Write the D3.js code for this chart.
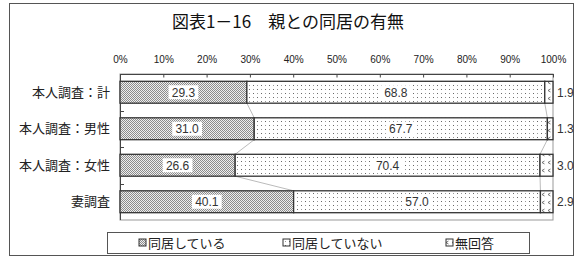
<!DOCTYPE html>
<html><head><meta charset="utf-8">
<script src="https://cdn.jsdelivr.net/npm/d3@7"></script>
<style>
html,body{margin:0;padding:0;background:#fff;}
svg{display:block;}
</style></head>
<body>
<svg id="c" width="578" height="260"></svg>
<script>
const title = "図表1－16　親との同居の有無";
const categories = ["本人調査：計", "本人調査：男性", "本人調査：女性", "妻調査"];
const seriesNames = ["同居している", "同居していない", "無回答"];
const livingTogether = [29.3, 31.0, 26.6, 40.1];
const notLivingTogether = [68.8, 67.7, 70.4, 57.0];
const noAnswer = [1.9, 1.3, 3.0, 2.9];
const tickValues = [0, 10, 20, 30, 40, 50, 60, 70, 80, 90, 100];

const svg = d3.select("#c");
const CJK = "'Noto Sans CJK JP', sans-serif";
const NUM = "'Liberation Sans', Arial, sans-serif";

// patterns
const defs = svg.append("defs");
const p1 = defs.append("pattern").attr("id","p0").attr("patternUnits","userSpaceOnUse").attr("width",2).attr("height",2);
p1.append("rect").attr("width",2).attr("height",2).attr("fill","#eeeeee");
p1.append("rect").attr("x",0).attr("y",0).attr("width",1).attr("height",1).attr("fill","#8c8c8c");
p1.append("rect").attr("x",1).attr("y",1).attr("width",1).attr("height",1).attr("fill","#8c8c8c");
const p2 = defs.append("pattern").attr("id","p1").attr("patternUnits","userSpaceOnUse").attr("width",8).attr("height",8);
p2.append("rect").attr("width",8).attr("height",8).attr("fill","#fff");
p2.append("rect").attr("x",1).attr("y",1).attr("width",1).attr("height",1).attr("fill","#666");
p2.append("rect").attr("x",5).attr("y",5).attr("width",1).attr("height",1).attr("fill","#666");
p2.append("rect").attr("x",5).attr("y",1).attr("width",1).attr("height",1).attr("fill","#999");
p2.append("rect").attr("x",1).attr("y",5).attr("width",1).attr("height",1).attr("fill","#999");
const p3 = defs.append("pattern").attr("id","p2").attr("patternUnits","userSpaceOnUse").attr("width",6).attr("height",8);
p3.append("rect").attr("width",6).attr("height",8).attr("fill","#fff");
p3.append("path").attr("d","M4.5,1 L2,2.5 L4.5,4").attr("fill","none").attr("stroke","#555").attr("stroke-width",0.8);
const fills = ["url(#p0)","url(#p1)","url(#p2)"];

// outer frame
svg.append("rect").attr("x",9.5).attr("y",3.5).attr("width",564).attr("height",252)
  .attr("fill","none").attr("stroke","#555").attr("stroke-width",1);

svg.append("text").attr("x",288).attr("y",28).attr("text-anchor","middle")
  .attr("font-family",CJK).attr("font-size",17).attr("fill","#111").text(title);

const x = d3.scaleLinear().domain([0,100]).range([120,553]);
const y = d3.scaleBand().domain(categories).range([74,220]).paddingInner(0.4).paddingOuter(0.2);

// plot area
svg.append("rect").attr("x",120).attr("y",74).attr("width",433).attr("height",146)
  .attr("fill","none").attr("stroke","#999").attr("stroke-width",1);

// top axis
const xAxis = svg.append("g").attr("transform","translate(0,74)")
  .call(d3.axisTop(x).tickValues(tickValues).tickSize(0).tickPadding(11).tickFormat(d=>d+"%"));
xAxis.select(".domain").attr("stroke","#444");
xAxis.selectAll("text").attr("font-family",NUM).attr("font-size",10).attr("fill","#222");
svg.append("g").selectAll("line").data(tickValues).join("line")
  .attr("x1",d=>x(d)+0.5).attr("x2",d=>x(d)+0.5).attr("y1",74).attr("y2",77.5)
  .attr("stroke","#444");

// left axis
svg.append("line").attr("x1",120.5).attr("x2",120.5).attr("y1",74).attr("y2",220).attr("stroke","#444");
const bounds = categories.slice(1).map(c => y(c) - y.step()*y.paddingInner()/2);
svg.append("g").selectAll("line").data(bounds).join("line")
  .attr("x1",120).attr("x2",124).attr("y1",d=>Math.round(d)+0.5).attr("y2",d=>Math.round(d)+0.5).attr("stroke","#444");

svg.append("g").selectAll("text").data(categories).join("text")
  .attr("x",110).attr("y",c=>y(c)+y.bandwidth()/2).attr("dy","0.36em")
  .attr("text-anchor","end").attr("font-family",CJK).attr("font-size",13).attr("fill","#222")
  .text(c=>c);

// stacked data
const rows = categories.map((c,i)=>({cat:c, v:[livingTogether[i], notLivingTogether[i], noAnswer[i]]}));
rows.forEach(r=>{ let s=0; r.segs = r.v.map((v,k)=>{const o={k,v,x0:s,x1:s+v}; s+=v; return o;}); });

// series lines
const lines = svg.append("g");
for (let k=0;k<2;k++){
  for (let i=0;i<rows.length-1;i++){
    const a = rows[i], b = rows[i+1];
    lines.append("line")
      .attr("x1",x(a.segs[k].x1)).attr("y1",y(a.cat)+y.bandwidth())
      .attr("x2",x(b.segs[k].x1)).attr("y2",y(b.cat))
      .attr("stroke","#aaa").attr("stroke-width",0.8);
  }
}

// bars
const g = svg.append("g");
rows.forEach(r=>{
  r.segs.forEach(s=>{
    g.append("rect").attr("x",x(s.x0)).attr("y",y(r.cat))
      .attr("width",x(s.x1)-x(s.x0)).attr("height",y.bandwidth())
      .attr("fill",fills[s.k]).attr("stroke","#333").attr("stroke-width",1.3);
  });
});

// value labels
const lab = svg.append("g");
rows.forEach(r=>{
  r.segs.slice(0,2).forEach(s=>{
    const cx = x((s.x0+s.x1)/2), cy = y(r.cat)+y.bandwidth()/2;
    const t = s.v.toFixed(1);
    const w = t.length*6.7+3;
    lab.append("rect").attr("x",cx-w/2).attr("y",cy-7).attr("width",w).attr("height",14).attr("fill","#fff");
    lab.append("text").attr("x",cx).attr("y",cy).attr("dy","0.36em").attr("text-anchor","middle")
      .attr("font-family",NUM).attr("font-size",12).attr("fill","#333").text(t);
  });
  const s = r.segs[2];
  lab.append("text").attr("x",557).attr("y",y(r.cat)+y.bandwidth()/2).attr("dy","0.36em")
    .attr("font-family",NUM).attr("font-size",12).attr("fill","#333").text(s.v.toFixed(1));
});

// legend
const lg = svg.append("g");
lg.append("rect").attr("x",107.5).attr("y",232.5).attr("width",422).attr("height",21)
  .attr("fill","#fff").attr("stroke","#555");
const legX = [139, 283, 446];
seriesNames.forEach((n,k)=>{
  lg.append("rect").attr("x",legX[k]).attr("y",239).attr("width",7).attr("height",7)
    .attr("fill",fills[k]).attr("stroke","#333").attr("stroke-width",1);
  lg.append("text").attr("x",legX[k]+9).attr("y",243).attr("dy","0.36em")
    .attr("font-family",CJK).attr("font-size",13).attr("fill","#222").text(n);
});
</script>
</body></html>
